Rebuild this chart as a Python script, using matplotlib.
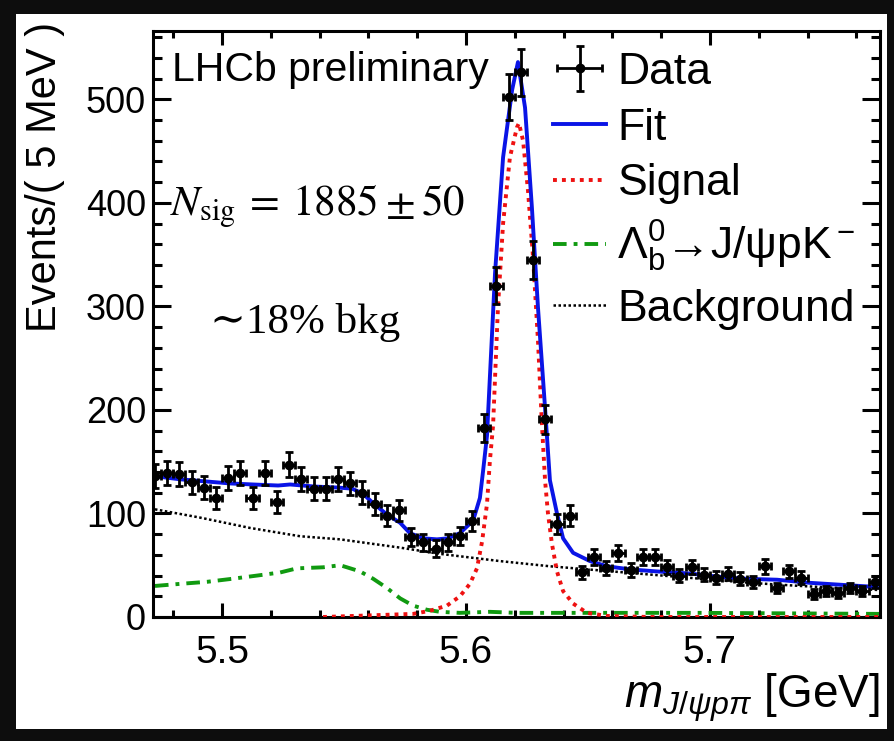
import numpy as np
import matplotlib
matplotlib.use("Agg")
import matplotlib.pyplot as plt
from matplotlib.patches import Rectangle
from matplotlib.ticker import MultipleLocator

plt.rcParams['font.family'] = ['Liberation Sans', 'DejaVu Sans']
plt.rcParams['mathtext.fontset'] = 'custom'
plt.rcParams['mathtext.rm'] = 'Liberation Sans'
plt.rcParams['mathtext.it'] = 'Liberation Sans:italic'
plt.rcParams['mathtext.bf'] = 'Liberation Sans:bold'

# m(J/psi p pi) in GeV, 60 bins of 5 MeV
bin_lo = 5.47
bin_w = 0.005
counts = [136, 139, 138, 130, 125, 115, 134, 139, 115, 139,
          111, 147, 133, 124, 124, 133, 129, 120, 109, 98,
          103, 77, 72, 66, 72, 78, 93, 183, 320, 502,
          526, 345, 191, 90, 98, 43, 58, 47, 62, 45,
          58, 58, 48, 40, 48, 41, 38, 42, 37, 34,
          49, 28, 44, 38, 22, 25, 23, 28, 25, 34]

# fit components
fit_m = [5.4725, 5.4828, 5.4930, 5.5033, 5.5127, 5.5230, 5.5279, 5.5381, 5.5475,
         5.5533, 5.5578, 5.5619, 5.5676, 5.5730, 5.5770, 5.5824, 5.5881, 5.5926,
         5.5975, 5.6029, 5.6057, 5.6070, 5.6086, 5.6119, 5.6152, 5.6189, 5.6213,
         5.6242, 5.6270, 5.6295, 5.6324, 5.6344, 5.6373, 5.6398, 5.6439, 5.6508,
         5.6578, 5.6672, 5.6783, 5.6918, 5.7029, 5.7135, 5.7275, 5.7410, 5.7545, 5.7684]
fit_y = [136, 133, 131, 129, 128, 127, 128, 126, 125,
         124, 119, 110, 99, 91, 81, 76, 75, 76,
         81, 93, 115, 141, 175, 332, 444, 509, 536,
         492, 396, 299, 202, 132, 100, 76, 62, 54,
         49, 46, 44, 42, 39, 37, 36, 33, 31, 29]

sig_m = [5.5414, 5.5783, 5.5852, 5.5922, 5.5975, 5.6016, 5.6045, 5.6066, 5.6086,
         5.6098, 5.6111, 5.6131, 5.6152, 5.6180, 5.6209, 5.6217, 5.6234, 5.6254,
         5.6275, 5.6295, 5.6311, 5.6324, 5.6336, 5.6352, 5.6373, 5.6398, 5.6439,
         5.6496, 5.6578, 5.6754, 5.7697]
sig_y = [0, 3, 6, 11, 20, 32, 47, 73, 109,
         151, 185, 299, 380, 444, 473, 477, 460, 412,
         347, 267, 187, 132, 100, 71, 44, 25, 13,
         4, 1, 0, 0]

lb_m = [5.4725, 5.4828, 5.4939, 5.5045, 5.5143, 5.5238, 5.5307, 5.5414, 5.5484,
        5.5512, 5.5566, 5.5619, 5.5676, 5.5730, 5.5783, 5.5840, 5.5893, 5.5975,
        5.6098, 5.6209, 5.6549, 5.6959, 5.7697]
lb_y = [30, 32, 34, 37, 40, 43, 47, 48, 50,
        48, 44, 37, 28, 18, 11, 7, 5, 4,
        5, 4, 4, 4, 3]

bkg_m = [5.4725, 5.4910, 5.5115, 5.5320, 5.5484, 5.5730, 5.5893, 5.6139,
         5.6344, 5.6549, 5.6754, 5.6959, 5.7164, 5.7369, 5.7697]
bkg_y = [104, 96, 86, 78, 75, 67, 61, 54, 49, 45, 41, 37, 33, 30, 26]

counts = np.array(counts)
centers = bin_lo + bin_w * (np.arange(len(counts)) + 0.5)

W, H = 894, 741
fig = plt.figure(figsize=(W / 100, H / 100), dpi=100)
fig.patch.set_facecolor('#0d0d0d')
fig.add_artist(Rectangle((16 / W, 1 - 729 / H), (887 - 16) / W, (729 - 14) / H,
                         transform=fig.transFigure, facecolor='white', edgecolor='none', zorder=0))

ax = fig.add_axes([153 / W, 1 - 617 / H, (880 - 153) / W, (617 - 31) / H])

ax.plot(bkg_m, bkg_y, color='black', lw=1.8, ls=(0, (1, 1)), label='Background', zorder=2)
ax.plot(lb_m, lb_y, color='#109a10', lw=2.8, ls=(0, (3.5, 1.8, 1, 1.8)),
        label=r'$\Lambda_{\rm b}^{0}$→J/ψpK$^{\rm -}$', zorder=2)
ax.plot(sig_m, sig_y, color='#ee1111', lw=2.8, ls=(0, (1, 1.3)), label='Signal', zorder=3)
ax.plot(fit_m, fit_y, color='#0a14e6', lw=2.8, label='Fit', zorder=4)
eb = ax.errorbar(centers, counts, xerr=bin_w / 2, yerr=np.sqrt(counts), fmt='o',
                 color='black', ms=6, elinewidth=2.0, capsize=3, capthick=2.0,
                 label='Data', zorder=5)

ax.set_xlim(5.4717, 5.7697)
ax.set_ylim(0, 566)
ax.xaxis.set_major_locator(MultipleLocator(0.1))
ax.xaxis.set_minor_locator(MultipleLocator(0.02))
ax.yaxis.set_major_locator(MultipleLocator(100))
ax.yaxis.set_minor_locator(MultipleLocator(20))
ax.tick_params(which='both', direction='in', top=True, right=True, width=2.2)
ax.tick_params(axis='y', which='major', length=13, labelsize=26, pad=5)
ax.tick_params(axis='y', which='minor', length=6.5)
ax.tick_params(axis='x', which='major', length=10, labelsize=28, pad=13)
ax.tick_params(axis='x', which='minor', length=5)
for s in ax.spines.values():
    s.set_linewidth(2.2)

fig.text(45 / W, 1 - 22 / H, 'Events/( 5 MeV )', rotation=90, ha='center', va='top', fontsize=30)
fig.text(880 / W, 1 - 708 / H, r'$m_{J/\psi p\pi}$ [GeV]', ha='right', va='baseline', fontsize=33)

fig.text(172 / W, 1 - 70 / H, 'LHCb preliminary', ha='left', va='center', fontsize=29.5)
fig.text(170 / W, 1 - 207 / H, r'$N_{\rm sig}\:=\:1885\:\pm\:50$', ha='left', va='center',
         fontsize=31, math_fontfamily='stix')
fig.text(210 / W, 1 - 322 / H, '∼18% bkg', ha='left', va='center', fontsize=31,
         family=['Liberation Serif', 'DejaVu Serif'])

handles, labels = ax.get_legend_handles_labels()
order = ['Data', 'Fit', 'Signal', labels[1], 'Background']
hmap = dict(zip(labels, handles))
ax.legend([hmap[k] for k in order], order, loc='upper left',
          bbox_to_anchor=(553 / W, 1 - 52 / H), bbox_transform=fig.transFigure,
          frameon=False, fontsize=32, handlelength=1.2, handletextpad=0.25,
          labelspacing=0.33, borderpad=0, borderaxespad=0)

fig.savefig('out.png', dpi=100, facecolor=fig.get_facecolor())
